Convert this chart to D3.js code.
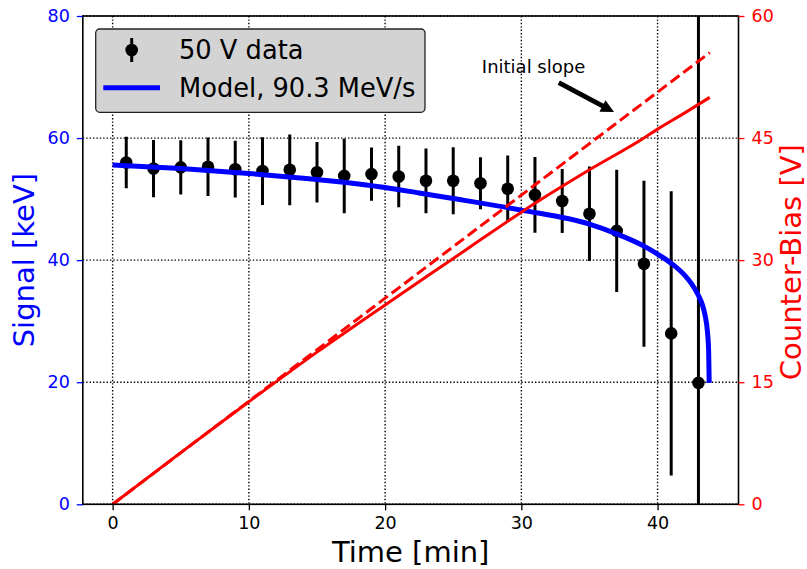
<!DOCTYPE html>
<html>
<head>
<meta charset="utf-8">
<script src="https://cdn.jsdelivr.net/npm/d3@7"></script>
<style>
  html, body { margin: 0; padding: 0; background: #fff; }
  svg { display: block; font-family: "DejaVu Sans", sans-serif; }
</style>
</head>
<body>
<svg id="chart" width="807" height="569"></svg>
<script>
// ---------- data ----------
const dataTime   = [1, 3, 5, 7, 9, 11, 13, 15, 17, 19, 21, 23, 25, 27, 29, 31, 33, 35, 37, 39, 41, 43];
const dataSignal = [56.0, 55.0, 55.2, 55.3, 54.9, 54.6, 54.8, 54.4, 53.8, 54.1, 53.7, 53.0, 53.0, 52.6, 51.7, 50.7, 49.7, 47.6, 44.8, 39.4, 28.0, 19.9];
const dataError  = [4.2, 4.7, 4.45, 4.8, 4.65, 5.55, 5.8, 4.95, 6.1, 4.35, 5.05, 5.3, 5.5, 4.25, 5.45, 6.2, 5.25, 7.75, 10.0, 13.6, 23.3, 90];

const modelTime   = [0, 5, 10, 15, 20, 22.5, 25, 30, 35, 37, 39, 40, 41, 42, 42.5, 43, 43.3, 43.5, 43.65, 43.75, 43.79];
const modelSignal = [55.6, 55.0, 54.2, 53.2, 51.9, 51.0, 50.1, 48.2, 45.9, 44.3, 42.3, 41.0, 39.5, 37.5, 36.1, 34.2, 32.6, 30.8, 28.5, 25.0, 19.9];

const biasTime  = [0, 5, 10, 15, 20, 25, 27, 30, 35, 39, 40, 42, 43.83];
const biasValue = [0, 6.35, 12.6, 18.7, 24.5, 30.2, 32.5, 35.9, 41.1, 45.0, 46.1, 48.1, 50.0];

const slopeTime  = [0, 43.83];
const slopeValue = [0, 55.5];

const xTicks      = [0, 10, 20, 30, 40];
const yLeftTicks  = [0, 20, 40, 60, 80];
const yRightTicks = [0, 15, 30, 45, 60];

const xDomain      = [-2.19, 45.94];
const yLeftDomain  = [0, 80];
const yRightDomain = [0, 60];

const legendLabels = ["50 V data", "Model, 90.3 MeV/s"];
const annotText  = "Initial slope";
const annotTextPos = [27.1, 53.0];   // time, bias
const annotTail    = [32.75, 51.8];
const annotTip     = [36.8, 48.2];

// ---------- layout ----------
const L = 82.8, R = 738.5, T = 16, B = 504.3;
const BLUE = "#0000ff", RED = "#ff0000";

const svg = d3.select("#chart");
const x  = d3.scaleLinear().domain(xDomain).range([L, R]);
const yL = d3.scaleLinear().domain(yLeftDomain).range([B, T]);
const yR = d3.scaleLinear().domain(yRightDomain).range([B, T]);

svg.append("defs").append("clipPath").attr("id", "plotclip")
  .append("rect").attr("x", L).attr("y", T).attr("width", R - L).attr("height", B - T);

// grid
const grid = svg.append("g").attr("stroke", "#000").attr("stroke-width", 1.4)
  .attr("stroke-dasharray", "1.4,2.0");
xTicks.forEach(t => grid.append("line").attr("x1", x(t)).attr("x2", x(t)).attr("y1", T).attr("y2", B));
yLeftTicks.forEach(t => grid.append("line").attr("x1", L).attr("x2", R).attr("y1", yL(t)).attr("y2", yL(t)));

const plot = svg.append("g").attr("clip-path", "url(#plotclip)");

// error bars
const pts = dataTime.map((t, i) => ({t, s: dataSignal[i], e: dataError[i]}));
plot.append("g").selectAll("line").data(pts).join("line")
  .attr("x1", d => x(d.t)).attr("x2", d => x(d.t))
  .attr("y1", d => yL(d.s - d.e)).attr("y2", d => yL(d.s + d.e))
  .attr("stroke", "#000").attr("stroke-width", 3);
plot.append("g").selectAll("circle").data(pts).join("circle")
  .attr("cx", d => x(d.t)).attr("cy", d => yL(d.s)).attr("r", 6.3).attr("fill", "#000");

// model
const modelLine = d3.line().x(d => x(d[0])).y(d => yL(d[1])).curve(d3.curveMonotoneX);
plot.append("path").datum(modelTime.map((t, i) => [t, modelSignal[i]]))
  .attr("d", modelLine).attr("fill", "none").attr("stroke", BLUE).attr("stroke-width", 5);

// bias lines (twin axis)
const biasLine = d3.line().x(d => x(d[0])).y(d => yR(d[1])).curve(d3.curveMonotoneX);
plot.append("path").datum(biasTime.map((t, i) => [t, biasValue[i]]))
  .attr("d", biasLine).attr("fill", "none").attr("stroke", RED).attr("stroke-width", 3);
plot.append("path").datum(slopeTime.map((t, i) => [t, slopeValue[i]]))
  .attr("d", biasLine).attr("fill", "none").attr("stroke", RED).attr("stroke-width", 3)
  .attr("stroke-dasharray", "11.1,4.8");

// annotation
svg.append("text").attr("x", x(annotTextPos[0])).attr("y", yR(annotTextPos[1]))
  .attr("font-size", 18).attr("fill", "#000").text(annotText);
(function arrow() {
  const x0 = x(annotTail[0]), y0 = yR(annotTail[1]);
  const x1 = x(annotTip[0]),  y1 = yR(annotTip[1]);
  const dx = x1 - x0, dy = y1 - y0, len = Math.hypot(dx, dy);
  const ux = dx / len, uy = dy / len, nx = -uy, ny = ux;
  const hl = 13, hw = 6.5, sw = 2.4;
  const bx = x1 - ux * hl, by = y1 - uy * hl;
  const p = [
    [x0 + nx * sw, y0 + ny * sw], [bx + nx * sw, by + ny * sw], [bx + nx * hw, by + ny * hw],
    [x1, y1], [bx - nx * hw, by - ny * hw], [bx - nx * sw, by - ny * sw], [x0 - nx * sw, y0 - ny * sw]
  ];
  svg.append("polygon").attr("points", p.map(q => q.join(",")).join(" ")).attr("fill", "#000");
})();

// frame
svg.append("rect").attr("x", L).attr("y", T).attr("width", R - L).attr("height", B - T)
  .attr("fill", "none").attr("stroke", "#000").attr("stroke-width", 1.6);

// axes
const xAxis = svg.append("g").attr("transform", `translate(0,${B})`)
  .call(d3.axisBottom(x).tickValues(xTicks).tickSize(6).tickPadding(6).tickFormat(d3.format("d")));
xAxis.select(".domain").remove();
xAxis.selectAll("line").attr("stroke", "#000").attr("stroke-width", 1.3);
xAxis.selectAll("text").attr("font-size", 17.5).attr("fill", "#000").attr("font-family", "DejaVu Sans");

const yAxisL = svg.append("g").attr("transform", `translate(${L},0)`)
  .call(d3.axisLeft(yL).tickValues(yLeftTicks).tickSize(6).tickPadding(7).tickFormat(d3.format("d")));
yAxisL.select(".domain").remove();
yAxisL.selectAll("line").attr("stroke", BLUE).attr("stroke-width", 1.3);
yAxisL.selectAll("text").attr("font-size", 17.5).attr("fill", BLUE).attr("font-family", "DejaVu Sans");

const yAxisR = svg.append("g").attr("transform", `translate(${R},0)`)
  .call(d3.axisRight(yR).tickValues(yRightTicks).tickSize(6).tickPadding(7).tickFormat(d3.format("d")));
yAxisR.select(".domain").remove();
yAxisR.selectAll("line").attr("stroke", RED).attr("stroke-width", 1.3);
yAxisR.selectAll("text").attr("font-size", 17.5).attr("fill", RED).attr("font-family", "DejaVu Sans");

// axis titles
svg.append("text").attr("x", (L + R) / 2).attr("y", 562).attr("text-anchor", "middle")
  .attr("font-size", 29).attr("fill", "#000").text("Time [min]");
svg.append("text").attr("transform", `translate(33.5,${(T + B) / 2}) rotate(-90)`)
  .attr("text-anchor", "middle").attr("font-size", 29).attr("fill", BLUE).text("Signal [keV]");
svg.append("text").attr("transform", `translate(800.5,${(T + B) / 2 + 2}) rotate(-90)`)
  .attr("text-anchor", "middle").attr("font-size", 29).attr("fill", RED).text("Counter-Bias [V]");

// legend
const lg = svg.append("g");
lg.append("rect").attr("x", 95.7).attr("y", 29).attr("width", 329.3).attr("height", 83.3)
  .attr("rx", 4).attr("fill", "#d3d3d3").attr("stroke", "#222").attr("stroke-width", 1.3);
lg.append("line").attr("x1", 131.7).attr("x2", 131.7).attr("y1", 38).attr("y2", 62)
  .attr("stroke", "#000").attr("stroke-width", 3);
lg.append("circle").attr("cx", 131.7).attr("cy", 50).attr("r", 6.3).attr("fill", "#000");
lg.append("line").attr("x1", 103.3).attr("x2", 160).attr("y1", 87.7).attr("y2", 87.7)
  .attr("stroke", BLUE).attr("stroke-width", 5);
lg.selectAll("text.lab").data(legendLabels).join("text").attr("class", "lab")
  .attr("x", 179).attr("y", (d, i) => i === 0 ? 59 : 96.7)
  .attr("font-size", 25.7).attr("fill", "#000").text(d => d);
</script>
</body>
</html>
